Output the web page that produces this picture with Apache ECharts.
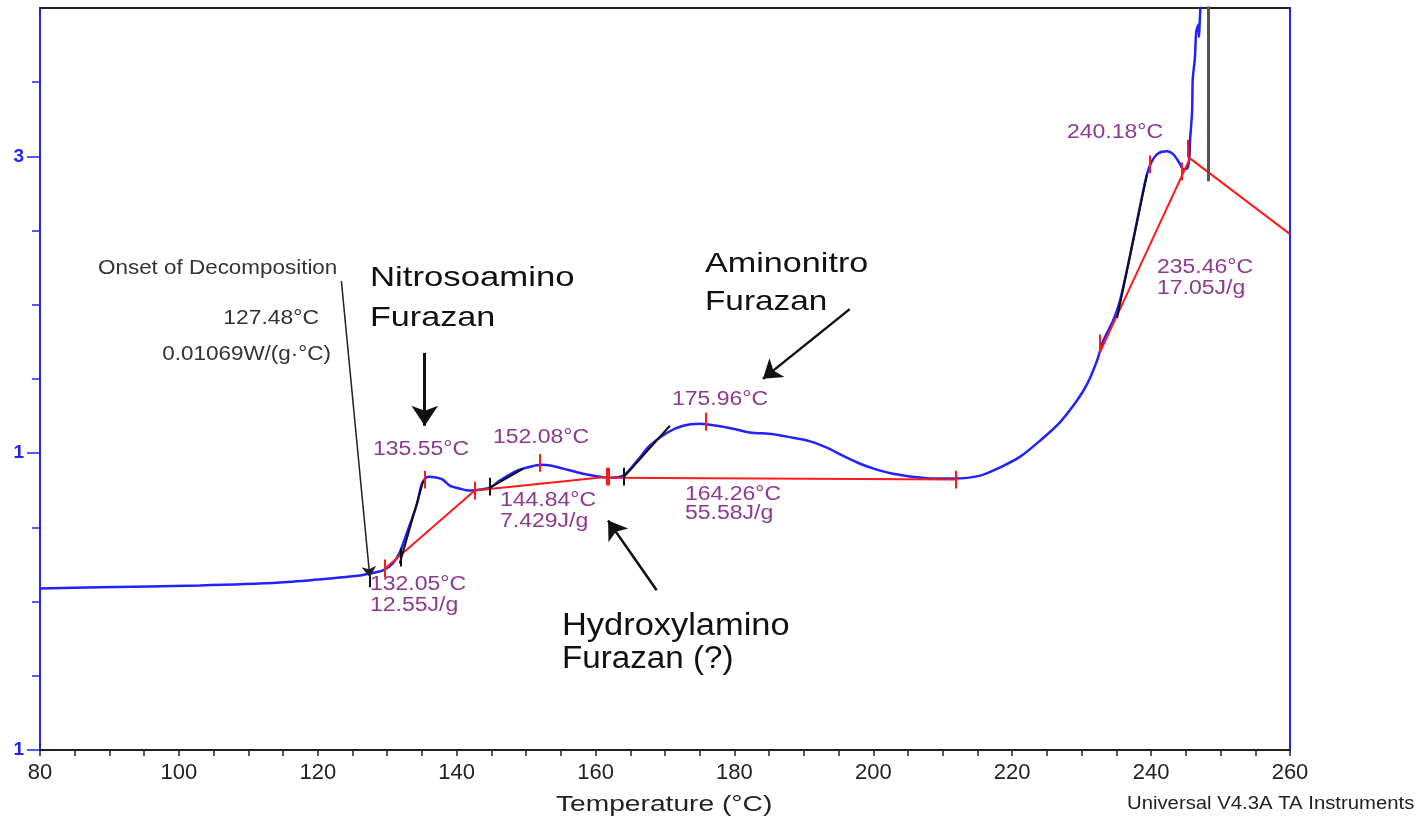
<!DOCTYPE html>
<html><head><meta charset="utf-8">
<script src="https://cdn.jsdelivr.net/npm/echarts@6/dist/echarts.min.js"></script>
<style>html,body{margin:0;padding:0;background:#fff}#c{width:1426px;height:821px}</style>
</head><body><div id="c"></div>
<script>
// ---- data ----
const temps = [80, 88.6, 103.0, 114.6, 121.8, 126.1, 127.5, 129.4, 130.8, 131.8, 132.8, 134.3, 135.0, 135.9,
  137.2, 138.0, 139.0, 140.5, 141.9, 143.4, 144.8, 146.2, 148.7, 150.6, 152.0, 153.7, 155.3, 158.2, 160.6,
  162.1, 164.0, 166.0, 167.8, 170.3, 172.6, 175.0, 177.5, 179.8, 182.2, 185.6, 188.4, 190.9, 193.3, 195.6,
  198.1, 200.5, 202.8, 206.3, 208.6, 211.5, 215.4, 218.2, 221.1, 224.0, 226.9, 229.3, 230.8, 232.2, 233.1,
  234.5, 235.5, 237.0, 238.4, 239.4, 240.1, 241.0, 242.3, 243.2, 244.2, 244.6, 245.2, 245.5, 245.6, 245.9,
  246.0, 246.3, 246.5, 246.8, 246.9, 247.0, 247.3];
const heatFlow = [0.0089, 0.0096, 0.0109, 0.0129, 0.0156, 0.0176, 0.0190, 0.0210, 0.0257, 0.0331, 0.0459, 0.0661, 0.0795, 0.0842,
  0.0835, 0.0822, 0.0782, 0.0761, 0.0748, 0.0755, 0.0768, 0.0815, 0.0882, 0.0909, 0.0923, 0.0916, 0.0896, 0.0862, 0.0842,
  0.0835, 0.0849, 0.0950, 0.1050, 0.1138, 0.1185, 0.1198, 0.1185, 0.1165, 0.1140, 0.1128, 0.1104, 0.1080, 0.1037, 0.0983,
  0.0929, 0.0889, 0.0862, 0.0838, 0.0829, 0.0829, 0.0849, 0.0903, 0.0975, 0.1084, 0.1210, 0.1353, 0.1467, 0.1622, 0.1756,
  0.1891, 0.2025, 0.2341, 0.2664, 0.2879, 0.2966, 0.3020, 0.3034, 0.3013, 0.2946, 0.2913, 0.2919, 0.2987, 0.3101, 0.3303,
  0.3524, 0.3659, 0.3840, 0.3887, 0.3806, 0.3907, 0.4200];
const baselines = [
  [[129.7, 0.0223], [142.6, 0.0748]],
  [[142.6, 0.0748], [161.8, 0.0842]],
  [[161.8, 0.0835], [211.8, 0.0822]],
  [[232.6, 0.1676], [245.6, 0.2987], [260, 0.2476]]
];
const tangents = [
  [[131.8, 0.0257], [135.2, 0.0815]],
  [[144.8, 0.0768], [149.6, 0.0896]],
  [[164.0, 0.0835], [170.7, 0.1185]],
  [[235.1, 0.1911], [239.4, 0.2879]]
];
const marker248 = [[248.2, 0.42], [248.2, 0.2832]];
const redMarks = [[129.7, 0.0223], [135.4, 0.0822], [142.6, 0.0748], [152.0, 0.0935], [161.65, 0.0842], [161.9, 0.0842],
  [175.8, 0.1212], [211.8, 0.0822], [232.6, 0.1740], [239.8, 0.2946], [244.4, 0.2899], [245.3, 0.3053]];
const blackMarks = [[127.5, 0.0156], [132.0, 0.0297], [144.8, 0.0775], [164.0, 0.0842]];
const onsetArrow = [[123.4, 0.2160], [127.5, 0.0163]];
const nitrosoArrow = [[135.4, 0.1676], [135.4, 0.1185]];
const aminoArrow = [[196.6, 0.1971], [184.1, 0.1501]];
const hydroxyArrow = [[168.8, 0.0076], [161.8, 0.0546]];
const xLabelValues = [80, 100, 120, 140, 160, 180, 200, 220, 240, 260];
const yMinorTicks = [-0.05, 0, 0.05, 0.15, 0.2, 0.25, 0.35];
const yLabelValues = [-0.1, 0.1, 0.3];
const yLabelTexts = ['1', '1', '3'];

const FONT = '"Liberation Sans", Arial, sans-serif';
const BLUE = '#2222ff';
const PURPLE = '#8e3a8e';

function markSegs(list, half) {
  return list.map(p => ({ coords: [[p[0], p[1] - half], [p[0], p[1] + half]] }));
}
function txt(text, x, y, align, size, sx, color) {
  return {
    type: 'text', x: x, y: y, scaleX: sx, scaleY: 1, z: 100, silent: true,
    style: { text: text, x: 0, y: 0, fill: color, font: size + 'px ' + FONT,
      textAlign: align, align: align, textVerticalAlign: 'middle', verticalAlign: 'middle' }
  };
}
const texts = [
  ['Onset of Decomposition', 98, 269, 'left', 19.5, 1.15, '#333'],
  ['127.48°C', 319, 318, 'right', 21, 1.09, '#333'],
  ['0.01069W/(g·°C)', 331, 354, 'right', 21, 1.07, '#333'],
  ['Nitrosoamino', 370, 278, 'left', 28, 1.24, '#111'],
  ['Furazan', 370, 318, 'left', 28, 1.22, '#111'],
  ['Aminonitro', 705, 264, 'left', 28, 1.22, '#111'],
  ['Furazan', 705, 302, 'left', 28, 1.19, '#111'],
  ['Hydroxylamino', 562, 626, 'left', 31, 1.11, '#111'],
  ['Furazan (?)', 562, 659, 'left', 31, 1.07, '#111'],
  ['135.55°C', 373, 449, 'left', 20, 1.15, PURPLE],
  ['152.08°C', 493, 437.5, 'left', 20, 1.15, PURPLE],
  ['175.96°C', 672, 399.5, 'left', 20, 1.15, PURPLE],
  ['144.84°C', 500, 500.5, 'left', 20, 1.15, PURPLE],
  ['7.429J/g', 500, 521, 'left', 20, 1.15, PURPLE],
  ['132.05°C', 370, 584.5, 'left', 20, 1.15, PURPLE],
  ['12.55J/g', 370, 605, 'left', 20, 1.15, PURPLE],
  ['164.26°C', 685, 494.5, 'left', 20, 1.15, PURPLE],
  ['55.58J/g', 685, 513, 'left', 20, 1.15, PURPLE],
  ['240.18°C', 1067, 132.5, 'left', 20, 1.15, PURPLE],
  ['235.46°C', 1157, 267.5, 'left', 20, 1.15, PURPLE],
  ['17.05J/g', 1157, 288, 'left', 20, 1.15, PURPLE],
  ['Temperature (°C)', 556, 805, 'left', 22, 1.28, '#222'],
  ['Universal V4.3A TA Instruments', 1127, 804, 'left', 17.5, 1.16, '#222']
];

const chart = echarts.init(document.getElementById('c'), null, { renderer: 'canvas' });
function arrowSeries(coords, color, width, size) {
  return {
    type: 'lines', coordinateSystem: 'cartesian2d', xAxisIndex: 0, yAxisIndex: 0, z: 6, silent: true,
    symbol: ['none', 'arrow'], symbolSize: size, clip: false,
    lineStyle: { color: color, width: width, opacity: 1 },
    data: [{ coords: coords }]
  };
}
chart.setOption({
  animation: false,
  backgroundColor: '#ffffff',
  grid: { left: 40, right: 136, top: 8, bottom: 71, containLabel: false },
  xAxis: [
    { type: 'value', min: 80, max: 260, interval: 5, position: 'bottom',
      axisLine: { show: true, onZero: false, lineStyle: { color: '#222', width: 2 } },
      axisTick: { show: true, inside: false, length: 6, lineStyle: { color: '#222', width: 1.5 } },
      axisLabel: { show: true, margin: 12, fontSize: 22, color: '#222', fontFamily: FONT,
        formatter: v => (xLabelValues.indexOf(Math.round(v)) >= 0 && Math.abs(v - Math.round(v)) < 1e-6) ? String(Math.round(v)) : '' },
      splitLine: { show: false } },
    { type: 'value', min: 80, max: 260, position: 'top',
      axisLine: { show: true, onZero: false, lineStyle: { color: '#222', width: 2 } },
      axisTick: { show: false }, axisLabel: { show: false }, splitLine: { show: false } }
  ],
  yAxis: [
    { type: 'value', min: -0.1, max: 0.4, position: 'left',
      axisLine: { show: true, onZero: false, lineStyle: { color: BLUE, width: 2 } },
      axisTick: { show: true, inside: false, length: 8, customValues: yMinorTicks, lineStyle: { color: BLUE, width: 1.5 } },
      axisLabel: { show: false }, splitLine: { show: false } },
    { type: 'value', min: -0.1, max: 0.4, position: 'left',
      axisLine: { show: false, onZero: false },
      axisTick: { show: true, inside: false, length: 13, customValues: yLabelValues, lineStyle: { color: BLUE, width: 1.5 } },
      axisLabel: { show: true, customValues: yLabelValues, margin: 16, fontSize: 19, fontWeight: 'bold', color: BLUE, fontFamily: FONT,
        formatter: v => { let best = 0; yLabelValues.forEach((q, i) => { if (Math.abs(q - v) < Math.abs(yLabelValues[best] - v)) best = i; }); return yLabelTexts[best]; } },
      splitLine: { show: false } },
    { type: 'value', min: -0.1, max: 0.4, position: 'right',
      axisLine: { show: true, onZero: false, lineStyle: { color: BLUE, width: 2 } },
      axisTick: { show: false }, axisLabel: { show: false }, splitLine: { show: false } }
  ],
  series: [
    { type: 'line', name: 'Heat flow', xAxisIndex: 0, yAxisIndex: 0, z: 3,
      data: temps.map((t, i) => [t, heatFlow[i]]),
      showSymbol: false, smooth: 0.3, clip: true,
      lineStyle: { color: BLUE, width: 2.5 } },
    { type: 'lines', coordinateSystem: 'cartesian2d', xAxisIndex: 0, yAxisIndex: 0, polyline: true, z: 4, silent: true,
      lineStyle: { color: '#ff1a1a', width: 2, opacity: 1 },
      data: baselines.map(c => ({ coords: c })) },
    { type: 'lines', coordinateSystem: 'cartesian2d', xAxisIndex: 0, yAxisIndex: 0, z: 5, silent: true,
      lineStyle: { color: '#ff1a1a', width: 2, opacity: 1 },
      data: markSegs(redMarks, 0.006) },
    { type: 'lines', coordinateSystem: 'cartesian2d', xAxisIndex: 0, yAxisIndex: 0, z: 5, silent: true,
      lineStyle: { color: '#111', width: 2, opacity: 1 },
      data: tangents.map(c => ({ coords: c })).concat(markSegs(blackMarks, 0.006)) },
    { type: 'lines', coordinateSystem: 'cartesian2d', xAxisIndex: 0, yAxisIndex: 0, z: 5, silent: true, clip: true,
      lineStyle: { color: '#555', width: 3, opacity: 1 },
      data: [{ coords: marker248 }] },
    arrowSeries(onsetArrow, '#222', 1.5, 11),
    arrowSeries(nitrosoArrow, '#111', 3, 20),
    arrowSeries(aminoArrow, '#111', 2.5, 18),
    arrowSeries(hydroxyArrow, '#111', 2.5, 18)
  ],
  graphic: texts.map(t => txt.apply(null, t))
});
</script>
</body></html>
